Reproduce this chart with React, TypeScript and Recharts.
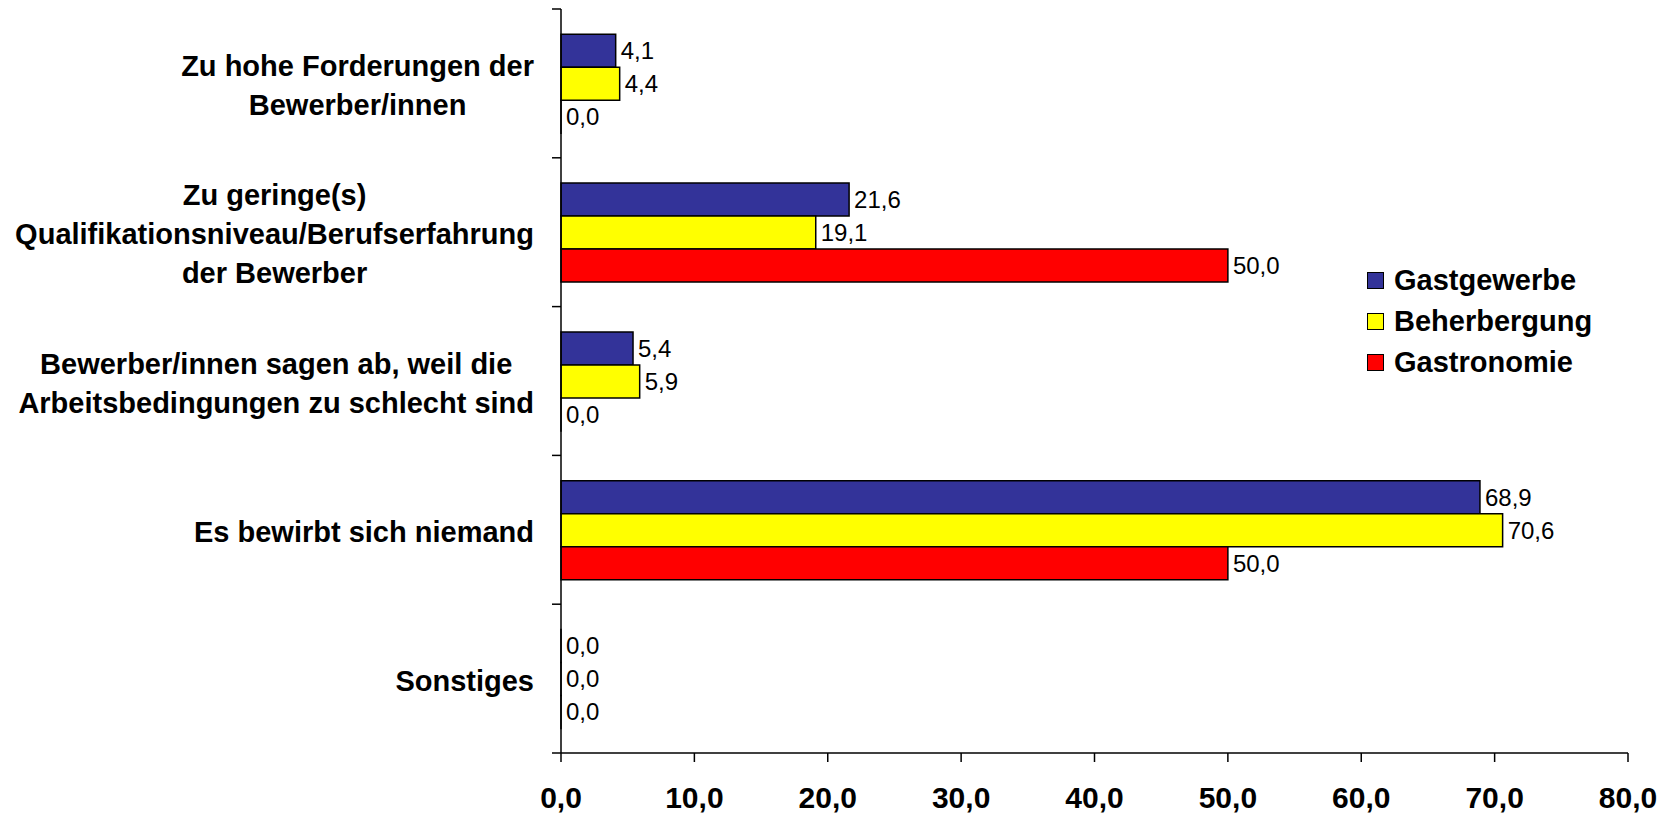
import { BarChart, Bar, XAxis, YAxis, LabelList } from 'recharts';

const categories = [
  'Zu hohe Forderungen der\nBewerber/innen',
  'Zu geringe(s)\nQualifikationsniveau/Berufserfahrung\nder Bewerber',
  'Bewerber/innen sagen ab, weil die\nArbeitsbedingungen zu schlecht sind',
  'Es bewirbt sich niemand',
  'Sonstiges',
];

const gastgewerbe = [4.1, 21.6, 5.4, 68.9, 0.0];
const beherbergung = [4.4, 19.1, 5.9, 70.6, 0.0];
const gastronomie = [0.0, 50.0, 0.0, 50.0, 0.0];

const xTicks = [0, 10, 20, 30, 40, 50, 60, 70, 80];

const seriesNames = ['Gastgewerbe', 'Beherbergung', 'Gastronomie'];
const seriesColors = ['#333399', '#FFFF00', '#FF0000'];

const chartData = categories.map((name, i) => ({
  name,
  gastgewerbe: gastgewerbe[i],
  beherbergung: beherbergung[i],
  gastronomie: gastronomie[i],
}));

const FONT = "'Liberation Sans', Arial, sans-serif";
const WIDTH = 1673;
const HEIGHT = 814;
const MARGIN = { top: 9, right: 45, bottom: 0, left: 0 };
const Y_AXIS_WIDTH = 561;
const X_AXIS_HEIGHT = 61;
const BAND = (HEIGHT - MARGIN.top - X_AXIS_HEIGHT) / categories.length;

// comma decimal like the original
const fmt = (v: number) => v.toFixed(1).replace('.', ',');

let measureCtx: CanvasRenderingContext2D | null = null;
function textWidth(text: string, font: string) {
  if (!measureCtx) measureCtx = document.createElement('canvas').getContext('2d');
  if (!measureCtx) return text.length * 15;
  measureCtx.font = font;
  return measureCtx.measureText(text).width;
}

const CategoryTick = (props: any) => {
  const { y, payload, index } = props;
  const lines: string[] = String(payload.value).split('\n');
  const font = `bold 29px ${FONT}`;
  const maxW = Math.max(...lines.map(l => textWidth(l, font)));
  const cx = 534 - maxW / 2;
  const lineH = 39;
  const startY = y + 2 - ((lines.length - 1) * lineH) / 2;
  const axisX = Y_AXIS_WIDTH;
  return (
    <g>
      <line x1={axisX - 9} x2={axisX} y1={y - BAND / 2} y2={y - BAND / 2} stroke="#000" strokeWidth={1.5} />
      {index === categories.length - 1 && (
        <line x1={axisX - 9} x2={axisX} y1={y + BAND / 2} y2={y + BAND / 2} stroke="#000" strokeWidth={1.5} />
      )}
      <text textAnchor="middle" fontFamily={FONT} fontSize={29} fontWeight="bold" fill="#000">
        {lines.map((l, i) => (
          <tspan key={i} x={cx} y={startY + i * lineH} dy="0.35em">
            {l}
          </tspan>
        ))}
      </text>
    </g>
  );
};

const ValueTick = (props: any) => {
  const { x, y, payload } = props;
  return (
    <text x={x} y={y} dy={44} textAnchor="middle" fontFamily={FONT} fontSize={30} fontWeight="bold" fill="#000">
      {fmt(payload.value)}
    </text>
  );
};

// value label drawn at the bar end, also for zero-length bars
const renderValue = (props: any) => {
  const { x, y, width, height, value } = props;
  return (
    <text
      x={Number(x) + Number(width) + 5}
      y={Number(y) + Number(height) / 2}
      dy="0.35em"
      fontFamily={FONT}
      fontSize={24}
      fill="#000"
    >
      {fmt(Number(value))}
    </text>
  );
};

function LegendBox() {
  return (
    <div
      style={{
        position: 'absolute',
        left: 1367,
        top: 260,
        fontFamily: FONT,
        fontSize: 29,
        fontWeight: 'bold',
        color: '#000',
      }}
    >
      {seriesNames.map((name, i) => (
        <div key={name} style={{ display: 'flex', alignItems: 'center', height: 41 }}>
          <span
            style={{
              display: 'inline-block',
              width: 15,
              height: 15,
              background: seriesColors[i],
              border: '1.5px solid #000',
              marginRight: 10,
            }}
          />
          <span>{name}</span>
        </div>
      ))}
    </div>
  );
}

export default function App() {
  const dataKeys = ['gastgewerbe', 'beherbergung', 'gastronomie'];
  return (
    <div style={{ position: 'absolute', left: 0, top: 0, width: WIDTH, height: HEIGHT, background: '#fff' }}>
      <BarChart
        width={WIDTH}
        height={HEIGHT}
        data={chartData}
        layout="vertical"
        margin={MARGIN}
        barCategoryGap="17%"
        barGap={0}
      >
        <XAxis
          type="number"
          domain={[0, 80]}
          ticks={xTicks}
          interval={0}
          height={X_AXIS_HEIGHT}
          axisLine={{ stroke: '#000', strokeWidth: 1.5 }}
          tickLine={{ stroke: '#000', strokeWidth: 1.5 }}
          tickSize={9}
          tick={<ValueTick />}
        />
        <YAxis
          type="category"
          dataKey="name"
          width={Y_AXIS_WIDTH}
          interval={0}
          axisLine={{ stroke: '#000', strokeWidth: 1.5 }}
          tickLine={false}
          tick={<CategoryTick />}
        />
        {dataKeys.map((key, i) => (
          <Bar
            key={key}
            dataKey={key}
            name={seriesNames[i]}
            fill={seriesColors[i]}
            stroke="#000"
            strokeWidth={1.5}
            minPointSize={0.01}
            isAnimationActive={false}
          >
            <LabelList dataKey={key} content={renderValue} />
          </Bar>
        ))}
      </BarChart>
      <LegendBox />
    </div>
  );
}
